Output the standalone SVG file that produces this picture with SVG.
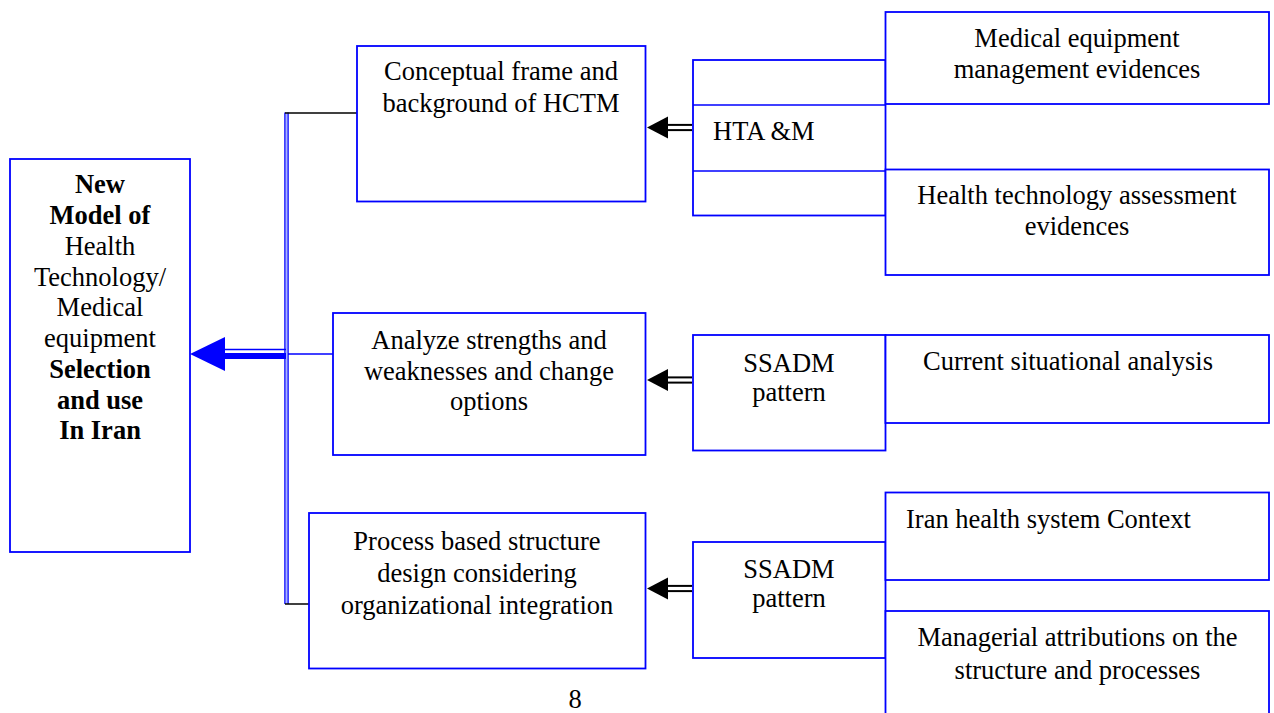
<svg xmlns="http://www.w3.org/2000/svg" width="1274" height="713" viewBox="0 0 1274 713">
  <style>
    .box { fill: #ffffff; stroke: #0000ff; stroke-width: 1.8; }
    .line-blue { stroke: #0000ff; stroke-width: 1.5; fill: none; }
    .line-black { stroke: #000000; stroke-width: 1.5; fill: none; }
    text { font-family: "Liberation Serif", "Times New Roman", serif; font-size: 26.5px; fill: #000000; }
    .c { text-anchor: middle; }
    .b { font-weight: bold; }
  </style>
  <defs>
    <!-- small double-shaft arrow pointing left, tip at origin -->
    <g id="small-arrow">
      <polygon points="0,0 21,-11 21,11" fill="#000000"/>
      <line x1="20" y1="-2.6" x2="45" y2="-2.6" stroke="#000000" stroke-width="2"/>
      <line x1="20" y1="2.6" x2="45" y2="2.6" stroke="#000000" stroke-width="2"/>
    </g>
  </defs>

  <rect width="1274" height="713" fill="#ffffff"/>

  <!-- connectors -->
  <g id="connectors">
    <!-- vertical double bus -->
    <line class="line-blue" x1="285" y1="112.5" x2="285" y2="604" stroke-width="1.2"/>
    <line class="line-blue" x1="288" y1="112.5" x2="288" y2="604" stroke-width="1.2"/>
    <line x1="286.5" y1="112.5" x2="286.5" y2="604" stroke="#aab4ff" stroke-width="1.6"/>
    <!-- branches to the three stage boxes -->
    <line class="line-black" x1="285" y1="113" x2="357" y2="113"/>
    <line class="line-blue" x1="288" y1="354" x2="333" y2="354"/>
    <line class="line-black" x1="285" y1="604" x2="309" y2="604"/>
    <!-- main arrow into the model box -->
    <polygon points="190,354 225,337 225,371" fill="#0000ff"/>
    <line x1="222" y1="349.5" x2="286" y2="349.5" stroke="#0000ff" stroke-width="1.6"/>
    <line x1="222" y1="356" x2="286" y2="356" stroke="#0000ff" stroke-width="6"/>
    <!-- method arrows -->
    <use href="#small-arrow" x="647" y="127.5"/>
    <use href="#small-arrow" x="647" y="380"/>
    <use href="#small-arrow" x="647" y="588.5"/>
  </g>

  <!-- model box -->
  <g id="node-model">
    <rect class="box" x="10" y="159" width="180" height="393"/>
    <text class="c b" x="100" y="193">New</text>
    <text class="c b" x="100" y="224">Model of</text>
    <text class="c" x="100" y="255">Health</text>
    <text class="c" x="100" y="285.5">Technology/</text>
    <text class="c" x="100" y="316">Medical</text>
    <text class="c" x="100" y="347">equipment</text>
    <text class="c b" x="100" y="378">Selection</text>
    <text class="c b" x="100" y="408.5">and use</text>
    <text class="c b" x="100" y="439">In Iran</text>
  </g>

  <!-- stage boxes -->
  <g id="node-conceptual">
    <rect class="box" x="357" y="46" width="288.5" height="155.5"/>
    <text class="c" x="501" y="80">Conceptual frame and</text>
    <text class="c" x="501" y="111.5">background of HCTM</text>
  </g>
  <g id="node-analyze">
    <rect class="box" x="333" y="313" width="312.5" height="142"/>
    <text class="c" x="489" y="349">Analyze strengths and</text>
    <text class="c" x="489" y="379.5">weaknesses and change</text>
    <text class="c" x="489" y="410">options</text>
  </g>
  <g id="node-process">
    <rect class="box" x="309" y="513" width="336.5" height="155.5"/>
    <text class="c" x="477" y="550">Process based structure</text>
    <text class="c" x="477" y="581.5">design considering</text>
    <text class="c" x="477" y="613.5">organizational integration</text>
  </g>

  <!-- method boxes -->
  <g id="node-htam">
    <rect class="box" x="693" y="60" width="192.5" height="155.5"/>
    <line class="line-blue" x1="693" y1="105" x2="885.5" y2="105" stroke-width="1.8"/>
    <line class="line-blue" x1="693" y1="171" x2="885.5" y2="171" stroke-width="1.8"/>
    <text x="713" y="140">HTA &amp;M</text>
  </g>
  <g id="node-ssadm-1">
    <rect class="box" x="693" y="335" width="192.5" height="115.5"/>
    <text class="c" x="789" y="371.5">SSADM</text>
    <text class="c" x="789" y="401">pattern</text>
  </g>
  <g id="node-ssadm-2">
    <rect class="box" x="693" y="542" width="192.5" height="116"/>
    <text class="c" x="789" y="577.5">SSADM</text>
    <text class="c" x="789" y="607">pattern</text>
  </g>

  <!-- evidence / input boxes -->
  <g id="node-me-evidence">
    <rect class="box" x="885.5" y="12" width="383.5" height="92"/>
    <text class="c" x="1077" y="46.5">Medical equipment</text>
    <text class="c" x="1077" y="78">management evidences</text>
  </g>
  <g id="node-hta-evidence">
    <rect class="box" x="885.5" y="169.5" width="383.5" height="105.5"/>
    <text class="c" x="1077" y="203.5">Health technology assessment</text>
    <text class="c" x="1077" y="235">evidences</text>
  </g>
  <g id="node-situation">
    <rect class="box" x="885.5" y="335" width="383.5" height="88"/>
    <text x="923" y="370">Current situational analysis</text>
  </g>
  <g id="node-context">
    <rect class="box" x="885.5" y="492.5" width="383.5" height="87.5"/>
    <text x="906" y="527.5">Iran health system Context</text>
  </g>
  <g id="node-managerial">
    <rect class="box" x="885.5" y="611" width="383.5" height="120"/>
    <text class="c" x="1077.5" y="646">Managerial attributions on the</text>
    <text class="c" x="1077.5" y="679">structure and processes</text>
  </g>

  <!-- page number -->
  <text class="c" x="575" y="708">8</text>
</svg>
